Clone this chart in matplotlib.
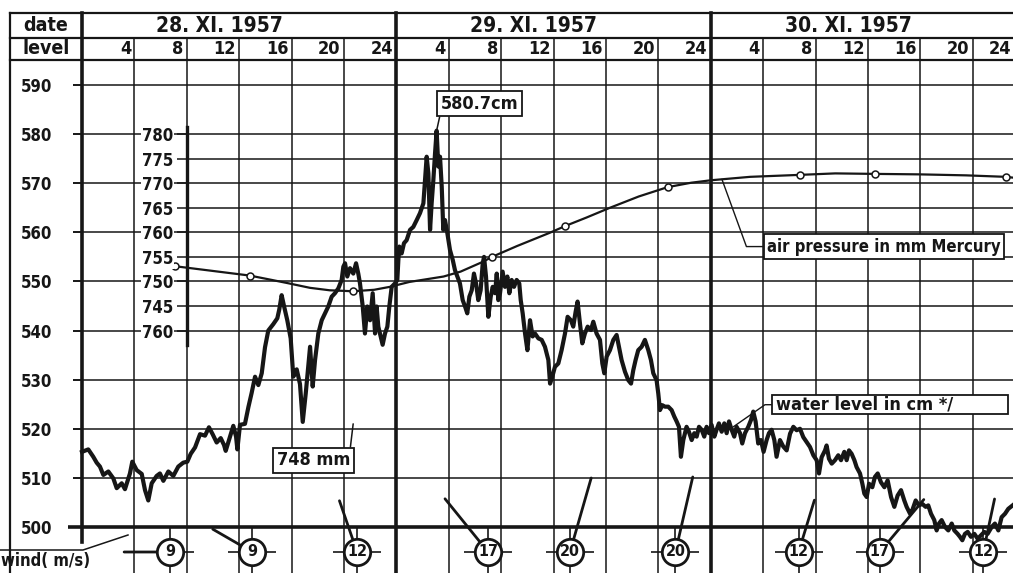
import numpy as np
import matplotlib
matplotlib.use("Agg")
import matplotlib.pyplot as plt
from matplotlib.patches import Rectangle

plt.rcParams['font.family'] = ['DejaVu Sans']
plt.rcParams['font.stretch'] = 'condensed'
plt.rcParams['font.weight'] = 'bold'

INK = '#161616'

# storm surge 28.-30. XI. 1957, hours counted from 28.XI 0h
day_labels = ['28. XI. 1957', '29. XI. 1957', '30. XI. 1957']
hour_ticks = list(range(4, 73, 4))
level_ticks = list(range(500, 600, 10))
pressure_ticks = list(range(740, 785, 5))
pressure_tick_labels = ['760', '745', '750', '755', '760', '765', '770', '775', '780']

# water level (cm)
water_hours = [
    0.0, 0.48, 0.86, 1.12, 1.37, 1.63, 2.01, 2.39, 2.65, 3.03, 3.28, 3.66, 3.84, 4.17, 4.56, 4.81,
    5.06, 5.32, 5.70, 5.95, 6.21, 6.59, 6.97, 7.35, 7.73, 8.04, 8.30, 8.63, 9.01, 9.39, 9.69, 9.97,
    10.28, 10.59, 10.84, 10.97, 11.22, 11.55, 11.76, 11.86, 12.06, 12.44, 12.70, 12.95, 13.21, 13.46,
    13.72, 13.97, 14.22, 14.60, 14.91, 15.06, 15.24, 15.42, 15.67, 15.93, 16.13, 16.39, 16.64, 16.85,
    17.08, 17.41, 17.61, 17.79, 18.04, 18.30, 18.55, 18.80, 19.06, 19.31, 19.57, 19.82, 19.95, 20.08,
    20.25, 20.46, 20.71, 20.92, 21.09, 21.22, 21.43, 21.60, 21.78, 21.99, 22.19, 22.37, 22.49, 22.62,
    22.80, 22.95, 23.13, 23.31, 23.46, 23.64, 23.89, 24.07, 24.15, 24.22, 24.40, 24.58, 24.78, 25.04,
    25.29, 25.55, 25.80, 26.06, 26.18, 26.31, 26.44, 26.57, 26.69, 26.82, 26.95, 27.07, 27.20, 27.33,
    27.46, 27.58, 27.71, 27.89, 28.09, 28.30, 28.47, 28.65, 28.85, 29.06, 29.24, 29.41, 29.57, 29.75,
    29.92, 30.08, 30.25, 30.43, 30.59, 30.69, 30.84, 31.02, 31.20, 31.35, 31.53, 31.66, 31.78, 31.91,
    32.11, 32.29, 32.47, 32.62, 32.80, 32.98, 33.18, 33.38, 33.49, 33.64, 33.82, 34.00, 34.20, 34.40,
    34.58, 34.84, 35.09, 35.34, 35.60, 35.73, 35.90, 36.10, 36.36, 36.61, 36.87, 37.07, 37.32, 37.50,
    37.68, 37.83, 38.01, 38.19, 38.39, 38.60, 38.85, 39.03, 39.28, 39.54, 39.72, 39.87, 40.05, 40.30,
    40.56, 40.81, 40.99, 41.19, 41.45, 41.70, 41.91, 42.08, 42.26, 42.46, 42.72, 42.97, 43.23, 43.43,
    43.61, 43.86, 43.99, 44.12, 44.30, 44.50, 44.75, 45.01, 45.21, 45.39, 45.57, 45.72, 45.90, 46.15,
    46.33, 46.54, 46.74, 46.92, 47.10, 47.30, 47.50, 47.68, 47.86, 48.06, 48.27, 48.44, 48.62, 48.83,
    49.03, 49.21, 49.39, 49.59, 49.79, 49.97, 50.23, 50.40, 50.61, 50.86, 51.07, 51.24, 51.42, 51.62,
    51.83, 52.03, 52.26, 52.44, 52.64, 52.85, 53.02, 53.28, 53.53, 53.79, 54.05, 54.30, 54.55, 54.81,
    55.06, 55.32, 55.57, 55.83, 56.08, 56.26, 56.46, 56.72, 56.84, 57.02, 57.23, 57.48, 57.73, 57.94,
    58.19, 58.37, 58.55, 58.75, 58.96, 59.13, 59.39, 59.57, 59.72, 59.90, 60.08, 60.33, 60.53, 60.74,
    60.99, 61.25, 61.50, 61.76, 62.01, 62.26, 62.52, 62.77, 62.95, 63.21, 63.38, 63.64, 63.89, 64.15,
    64.40, 64.60, 64.81, 65.06, 65.24, 65.42, 65.62, 65.88, 66.13, 66.39, 66.59, 66.84, 67.02, 67.20,
    67.40, 67.61, 67.86, 68.12, 68.37, 68.63, 68.88, 69.13, 69.44, 69.69, 69.95, 70.20, 70.46, 70.71,
    71.04,
]
water_cm = [
    515.3, 515.8, 514.3, 513.1, 512.3, 510.6, 511.3, 509.9, 507.9, 508.9, 507.7, 510.9, 513.3, 511.6, 510.8, 507.5,
    505.4, 508.9, 510.4, 510.9, 509.4, 511.3, 510.4, 512.3, 513.1, 513.3, 514.9, 516.2, 518.9, 518.6, 520.3, 518.9,
    517.2, 518.1, 516.7, 515.5, 517.7, 520.6, 518.4, 515.8, 520.8, 521.0, 524.4, 527.3, 530.6, 528.9,
    531.3, 536.6, 540.0, 541.3, 542.5, 544.3, 547.2, 545.0, 542.1, 538.4, 530.6, 532.1, 529.1, 521.4,
    527.2, 536.7, 528.6, 534.0, 539.4, 542.1, 543.5, 544.9, 546.9, 547.6, 548.6, 550.3, 553.0, 553.7,
    551.0, 552.7, 551.6, 553.7, 551.6, 549.6, 544.9, 539.4, 544.9, 542.1, 547.6, 539.4, 544.9, 540.8,
    538.8, 537.1, 539.4, 540.8, 544.9, 548.9, 549.6, 550.3, 554.4, 557.1, 555.7, 557.8, 558.4, 560.5,
    561.1, 562.5, 563.9, 565.9, 570.6, 575.4, 572.0, 560.5, 565.9, 570.6, 576.1, 580.7, 573.4, 575.4,
    569.3, 560.5, 562.5, 559.8, 556.4, 554.4, 552.3, 551.0, 549.6, 546.2, 544.9, 543.5, 546.9, 548.2,
    551.6, 549.6, 546.2, 548.2, 553.7, 555.0, 551.0, 542.8, 546.9, 548.9, 547.6, 551.6, 546.2, 547.6,
    552.0, 548.9, 551.0, 547.6, 550.3, 548.9, 550.3, 549.6, 546.2, 543.5, 539.4, 536.0, 542.1, 538.8,
    539.4, 538.4, 538.1, 536.7, 534.0, 529.2, 530.6, 532.6, 533.3, 536.0, 539.4, 542.8, 542.1, 540.8,
    543.8, 545.9, 541.5, 537.4, 539.4, 540.8, 540.1, 541.8, 539.4, 538.1, 533.3, 531.3, 534.7, 536.0,
    538.1, 539.1, 536.7, 534.0, 531.6, 529.9, 529.2, 531.9, 534.0, 536.0, 536.7, 538.1, 536.0, 534.0,
    531.3, 529.9, 527.2, 523.8, 524.8, 524.5, 524.5, 523.8, 522.5, 521.5, 520.4, 514.3, 517.7, 520.4,
    519.4, 517.7, 519.1, 518.4, 520.4, 519.8, 518.4, 520.4, 519.1, 520.8, 518.4, 519.8, 521.1, 519.4,
    521.1, 519.1, 521.5, 519.8, 518.4, 520.4, 519.1, 517.0, 519.1, 520.4, 521.8, 523.5, 521.5, 517.0,
    517.7, 515.3, 517.7, 519.1, 519.8, 517.7, 514.3, 517.7, 516.4, 515.6, 519.0, 520.4, 519.7, 520.0,
    518.3, 517.3, 516.3, 514.6, 513.6, 510.9, 514.2, 515.6, 516.6, 513.9, 512.9, 513.6, 514.6, 513.6,
    515.3, 513.6, 515.6, 514.9, 513.6, 512.2, 510.9, 508.8, 506.8, 506.1, 508.8, 508.1, 510.2, 510.9,
    509.1, 508.1, 509.5, 506.1, 504.1, 506.4, 507.5, 505.4, 504.1, 502.7, 503.4, 505.4, 504.4, 504.7,
    504.1, 504.4, 502.7, 501.4, 499.3, 500.7, 501.4, 500.0, 499.3, 500.7, 499.3, 498.6, 498.0, 497.3,
    498.6, 499.0, 498.0, 498.6, 497.6, 498.3, 499.0, 498.6, 500.0, 500.7, 499.3, 502.0, 502.7, 503.7,
    504.4,
]

# air pressure (mm Hg): barograph curve and the observation points on it
press_hours = [5.6, 7.1, 9.5, 12.8, 14.5, 15.8, 17.4, 18.9, 20.7, 22.3, 23.5, 25.0, 27.6, 28.9, 30.6,
               31.3, 33.2, 35.7, 36.9, 38.5, 40.3, 42.5, 44.7, 46.5, 48.0, 51.0, 54.8, 57.5, 60.5,
               64.0, 67.5, 70.5, 71.2]
press_mm = [753.4, 753.1, 752.3, 751.2, 750.3, 749.6, 748.7, 748.2, 748.0, 748.3, 748.9, 749.9, 751.0,
            752.0, 754.0, 755.0, 757.2, 759.9, 761.3, 763.0, 765.0, 767.3, 769.2, 770.1, 770.6, 771.3,
            771.7, 772.0, 771.9, 771.8, 771.6, 771.3, 771.1]
obs_hours = [7.1, 12.8, 20.7, 31.3, 36.9, 44.7, 54.8, 60.5, 70.5]
obs_mm = [753.1, 751.2, 748.0, 755.0, 761.3, 769.2, 771.7, 771.9, 771.3]

# wind: speed (m/s) and direction it blows from (deg)
wind_hours = [6.7, 13.0, 21.0, 31.0, 37.25, 45.3, 54.7, 60.9, 68.8]
wind_speed = [9, 9, 12, 17, 20, 20, 12, 17, 12]
wind_dir = [270, 300, 341, 321, 16, 13, 17, 40, 12]

# sheet geometry in pixels: hour 0 at x=82, 13.1 px per hour; 590 cm at y=85, 4.911 px per cm
W, H = 1013, 573
X0, PX_H = 82, 13.1
Y590, PX_CM = 85, 4.911


def xh(px):
    return (px - X0) / PX_H


def fy(py):
    return 1 - py / H


fig = plt.figure(figsize=(W / 100, H / 100), dpi=100)
ax = fig.add_axes([0, 0, 1, 1])
xl, xr = xh(0), xh(W)
ax.set_xlim(xl, xr)
ax.set_ylim(590 - (H - Y590) / PX_CM, 590 + Y590 / PX_CM)
for sp in ax.spines.values():
    sp.set_visible(False)
ax.set_xticks([])
ax.set_yticks([])
tx = ax.get_xaxis_transform()

# header frame: date row and hour row
row_top, row_mid, row_bot = fy(13), fy(38), fy(60)
for yy in (row_top, row_mid, row_bot):
    ax.plot([xh(10), xr], [yy, yy], transform=tx, color=INK, lw=1.6)
ax.plot([xh(10), xh(10)], [0, row_top], transform=tx, color=INK, lw=1.6)

# time grid, heavy lines at midnight
for h in [0] + hour_ticks:
    if h % 24 == 0:
        bottom = fy(542) if h == 0 else 0
        ax.plot([h, h], [bottom, row_top], transform=tx, color=INK, lw=2.6)
    else:
        ax.plot([h, h], [0, row_mid], transform=tx, color=INK, lw=1.1)
    if h > 0:
        # last hour label sits at the sheet edge
        ax.text(min(h - 0.25, xr - 0.15), fy(49), str(h % 24 or 24), transform=tx, ha='right',
                va='center', fontsize=13, color=INK)

for d, lab in enumerate(day_labels):
    ax.text(24 * d + 10.5, fy(25.5), lab, transform=tx, ha='center', va='center',
            fontsize=15, color=INK)
ax.text(xh(46), fy(25.5), 'date', transform=tx, ha='center', va='center', fontsize=14, color=INK)
ax.text(xh(46), fy(49), 'level', transform=tx, ha='center', va='center', fontsize=14, color=INK)

# level grid
for lv in level_ticks[1:]:
    ax.hlines(lv, 0, xr, color=INK, lw=1.1)
ax.hlines(level_ticks[0], xh(68), xr, color=INK, lw=2.6)
for p in pressure_ticks:
    if p % 10:
        ax.hlines(p - 200, 8, xr, color=INK, lw=1.1)

# level scale (cm)
lev_ax = ax.secondary_yaxis((0 - xl) / (xr - xl))
lev_ax.set_ticks(level_ticks, [str(v) for v in level_ticks], fontsize=12, fontweight='bold', color=INK)
lev_ax.tick_params(length=6.5, width=1.4, pad=15, color=INK)
lev_ax.spines['left'].set_visible(False)

# pressure scale (mm Hg) drawn on the 8h line
prs_ax = ax.secondary_yaxis((8 - xl) / (xr - xl), functions=(lambda v: v + 200, lambda v: v - 200))
prs_ax.set_ticks(pressure_ticks, pressure_tick_labels, fontsize=12, fontweight='bold', color=INK)
prs_ax.tick_params(length=7, width=1.1, pad=3, color=INK)
prs_ax.spines['left'].set_bounds(737.1, 781.4)
prs_ax.spines['left'].set_linewidth(2.4)
prs_ax.spines['left'].set_color(INK)
prs_ax.set_zorder(5)
for lab in prs_ax.get_yticklabels():
    lab.set_bbox(dict(boxstyle='square,pad=0.05', fc='white', ec='none'))

# curves
ax.plot(water_hours, water_cm, color=INK, lw=3.0, zorder=3, solid_joinstyle='round')
press_lv = np.array(press_mm) - 200
ax.plot(press_hours, press_lv, color=INK, lw=1.6, zorder=3.5)
ax.plot(obs_hours, np.array(obs_mm) - 200, 'o', ms=5, mfc='white', mec=INK, mew=1.1, zorder=4)

# wind row
ax.plot([xh(0), xh(83), xh(128)], [fy(550), fy(550), fy(535)], transform=tx, color=INK, lw=1.1)
ax.text(xh(46), fy(561), 'wind( m/s)', transform=tx, ha='center', va='center', fontsize=12, color=INK)
wy = fy(552)
for h, spd, dr in zip(wind_hours, wind_speed, wind_dir):
    length = (20 + 2.85 * spd) * 0.72
    dx, dy = length * np.sin(np.radians(dr)), length * np.cos(np.radians(dr))
    ax.annotate('', xy=(h, wy), xycoords=tx, xytext=(dx, dy), textcoords='offset points',
                arrowprops=dict(arrowstyle='-', lw=2.0, color=INK, shrinkA=0, shrinkB=0), zorder=3.6)
    ax.plot([h], [wy], transform=tx, marker='+', ms=34, mew=1.2, color=INK, zorder=4)
    ax.plot([h], [wy], transform=tx, marker='o', ms=19, mfc='white', mec=INK, mew=2.0, zorder=5)
    ax.text(h, wy, str(spd), transform=tx, ha='center', va='center', fontsize=11.5, color=INK, zorder=6)

# annotations
box = dict(boxstyle='square,pad=0.2', fc='white', ec=INK, lw=1.3)
i_pk = int(np.argmax(water_cm))
ax.annotate(f'{water_cm[i_pk]:.1f}cm', xy=(water_hours[i_pk], water_cm[i_pk]),
            xytext=(water_hours[i_pk] + 0.3, 586.2), ha='left', va='center', fontsize=13, color=INK,
            bbox=box, zorder=6,
            arrowprops=dict(arrowstyle='-', lw=1.1, color=INK, relpos=(0, 0), shrinkA=0, shrinkB=0))

i_lo = int(np.argmin(obs_mm))
ax.annotate(f'{obs_mm[i_lo]:.0f} mm', xy=(obs_hours[i_lo], 521.0), xytext=(17.65, 513.6),
            ha='center', va='center', fontsize=13, color=INK, bbox=box, zorder=6,
            arrowprops=dict(arrowstyle='-', lw=1.1, color=INK, relpos=(1, 1), shrinkA=0, shrinkB=0))

lead_h = 48.85
ax.annotate('air pressure in mm Mercury', xy=(lead_h, np.interp(lead_h, press_hours, press_lv)),
            xytext=(52.3, 557.1), ha='left', va='center', fontsize=12, color=INK, bbox=box, zorder=6,
            arrowprops=dict(arrowstyle='-', lw=1.0, color=INK, relpos=(0, 0.5), shrinkA=0, shrinkB=0,
                            connectionstyle='angle,angleA=0,angleB=-70,rad=0'))

ax.add_patch(Rectangle((xh(772), 523.0), xh(1008) - xh(772), 3.9, fc='white', ec=INK, lw=1.3, zorder=5))
ax.text(xh(776), 524.9, 'water level in cm */', ha='left', va='center', fontsize=13, color=INK, zorder=6)
ax.plot([xh(772), xh(765), 49.72], [524.9, 524.9, 520.4], color=INK, lw=1.0, zorder=4)

fig.savefig('out.png', dpi=100, facecolor='white')
